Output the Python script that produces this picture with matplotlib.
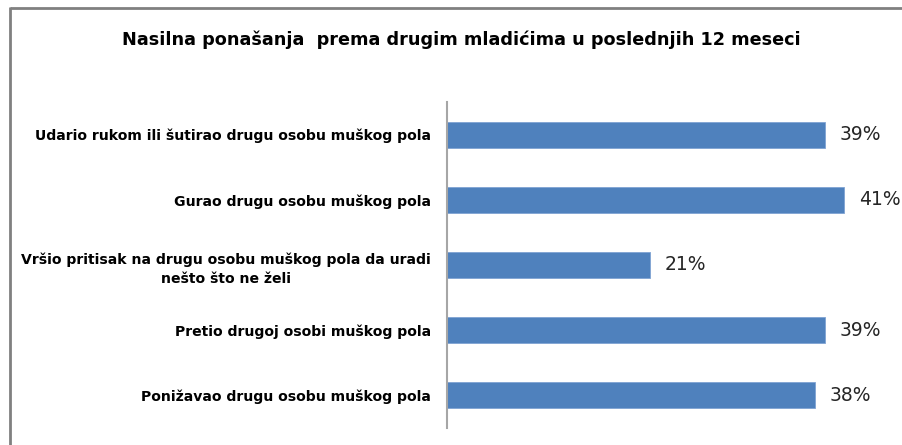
import matplotlib.pyplot as plt
from matplotlib.lines import Line2D

title = "Nasilna ponašanja  prema drugim mladićima u poslednjih 12 meseci"
categories = [
    "Udario rukom ili šutirao drugu osobu muškog pola",
    "Gurao drugu osobu muškog pola",
    "Vršio pritisak na drugu osobu muškog pola da uradi\nnešto što ne želi",
    "Pretio drugoj osobi muškog pola",
    "Ponižavao drugu osobu muškog pola",
]
values = [0.39, 0.41, 0.21, 0.39, 0.38]
labels = ["39%", "41%", "21%", "39%", "38%"]

W, H = 902, 445
fig = plt.figure(figsize=(W / 100, H / 100), dpi=100)
fig.patch.set_facecolor("white")

# plot area in pixels
x0, x1 = 447, 883
y_top, y_bot = 102, 428
ax = fig.add_axes([x0 / W, (H - y_bot) / H, (x1 - x0) / W, (y_bot - y_top) / H])

pos = list(range(len(categories)))
ax.barh(pos, values, height=0.4, color="#4F81BD", edgecolor="#7FA3D3", linewidth=0.6)
ax.set_xlim(0, 0.45)
ax.set_ylim(len(categories) - 0.5, -0.5)

for p, v, lab in zip(pos, values, labels):
    ax.annotate(lab, (v, p), xytext=(10.5, 0), textcoords="offset points",
                ha="left", va="center", fontsize=13.5, color="#262626")

ax.set_yticks(pos)
ax.set_yticklabels(categories, fontsize=10.1, fontweight="bold",
                   multialignment="center", linespacing=1.45)
ax.tick_params(axis="y", length=0, pad=11.5)
ax.set_xticks([])
for s in ["top", "right", "bottom"]:
    ax.spines[s].set_visible(False)
ax.spines["left"].set_color("#A6A6A6")
ax.spines["left"].set_linewidth(1.5)

fig.text(461 / W, 1 - 40 / H, title, ha="center", va="center",
         fontsize=12.7, fontweight="bold", color="black")

# chart frame (cut off at right and bottom)
fig.add_artist(Line2D([10 / W, 1], [1 - 7.5 / H, 1 - 7.5 / H], color="#808080", lw=2,
                      solid_capstyle="butt"))
fig.add_artist(Line2D([10 / W, 10 / W], [1 - 7 / H, 0], color="#808080", lw=2,
                      solid_capstyle="butt"))

fig.savefig("out.png", dpi=100)
